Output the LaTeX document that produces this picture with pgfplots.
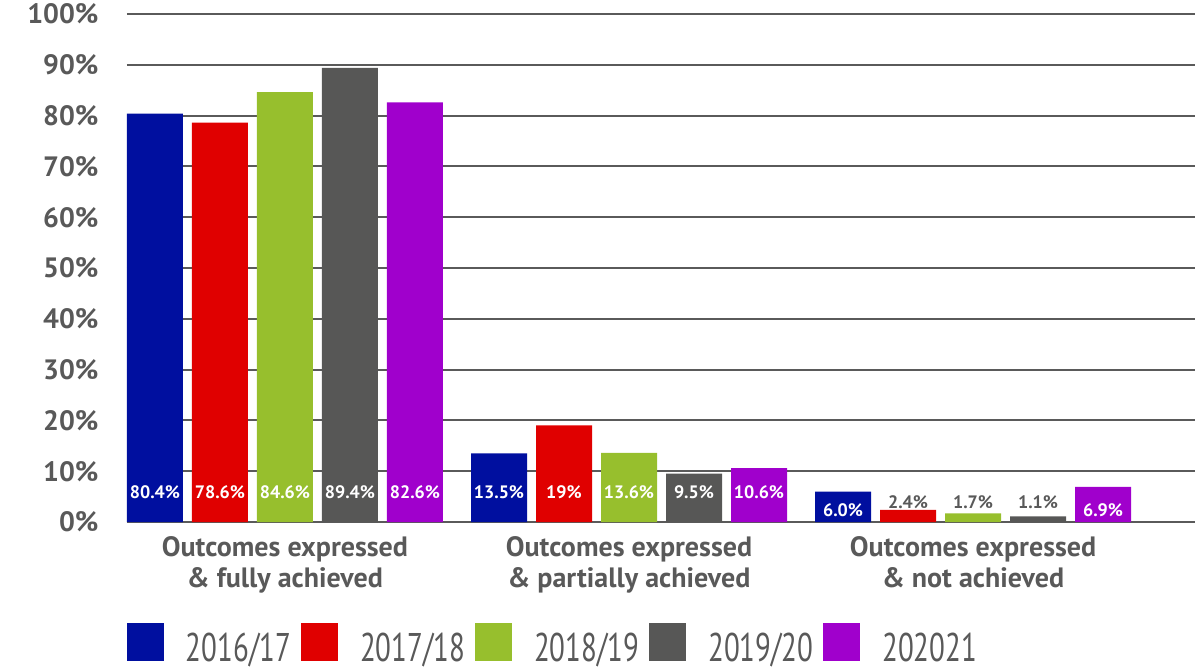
\documentclass[border=0pt]{standalone}
\usepackage{pgfplots}
\pgfplotsset{compat=1.18}
\usepackage{graphicx}
\usepackage{fontspec}
\setmainfont{PT Sans}
\definecolor{cblue}{HTML}{000F9F}
\definecolor{cred}{HTML}{E00000}
\definecolor{cgreen}{HTML}{97BF2D}
\definecolor{cgray}{HTML}{575756}
\definecolor{cpurple}{HTML}{A000CC}
\definecolor{txt}{HTML}{595959}
\definecolor{gridc}{HTML}{5A5A5A}
\begin{document}
\begin{tikzpicture}
\path[use as bounding box] (-127pt,-148pt) rectangle (1074pt,522pt);
\begin{axis}[
  scale only axis, width=1068pt, height=508pt,
  xmin=-0.459, xmax=2.645, ymin=0, ymax=100,
  ybar=9pt, bar width=56pt,
  axis line style={draw=none},
  tick style={draw=none},
  ymajorgrids, grid style={gridc, line width=2pt},
  ytick={0,10,...,100},
  yticklabels={0\%,10\%,20\%,30\%,40\%,50\%,60\%,70\%,80\%,90\%,100\%},
  yticklabel style={font=\fontsize{28}{30}\selectfont\bfseries, text=txt, xshift=-25pt},
  xtick={0,1,2},
  xticklabels={{Outcomes expressed\\\& fully achieved},{Outcomes expressed\\\& partially achieved},{Outcomes expressed\\\& not achieved}},
  xticklabel style={align=center, font=\fontsize{28}{31}\selectfont\bfseries, text=txt, yshift=-7pt},
  legend columns=5,
  legend style={at={(axis description cs:0,0)}, anchor=north west, yshift=-101pt,
    draw=none, fill=none, inner sep=0pt, outer sep=0pt,
    font=\fontsize{29}{31}\selectfont, text=txt,
    nodes={inner sep=0pt},
    /tikz/every odd column/.style={column sep=22pt},
    /tikz/every even column/.style={column sep=10pt}},
  legend image code/.code={\fill[#1] (0pt,-13pt) rectangle (37pt,25pt);},
  point meta=explicit symbolic,
  visualization depends on={\thisrow{off} \as \off},
  visualization depends on={\thisrow{dk} \as \dk},
  visualization depends on={y \as \rawy},
  nodes near coords={\ifdim\dk pt>0.5pt\color{txt}\else\color{white}\fi\pgfplotspointmeta\%},
  every node near coord/.append style={font=\fontsize{18}{20}\selectfont\bfseries, anchor=center, yshift={(\off-5.08*\rawy)*1pt}},
]
\addplot[fill=cblue, draw=none] table[meta=lab] {
x y lab off dk
0 80.4 80.4 30 0
1 13.5 13.5 30 0
2 6.0 6.0 12 0
};
\addlegendentry{\scalebox{1}[1.38]{2016/17}}
\addplot[fill=cred, draw=none] table[meta=lab] {
x y lab off dk
0 78.6 78.6 30 0
1 19 19 30 0
2 2.4 2.4 20 1
};
\addlegendentry{\scalebox{1}[1.38]{2017/18}}
\addplot[fill=cgreen, draw=none] table[meta=lab] {
x y lab off dk
0 84.6 84.6 30 0
1 13.6 13.6 30 0
2 1.7 1.7 20 1
};
\addlegendentry{\scalebox{1}[1.38]{2018/19}}
\addplot[fill=cgray, draw=none] table[meta=lab] {
x y lab off dk
0 89.4 89.4 30 0
1 9.5 9.5 30 0
2 1.1 1.1 20 1
};
\addlegendentry{\scalebox{1}[1.38]{2019/20}}
\addplot[fill=cpurple, draw=none] table[meta=lab] {
x y lab off dk
0 82.6 82.6 30 0
1 10.6 10.6 30 0
2 6.9 6.9 12 0
};
\addlegendentry{\scalebox{1}[1.38]{202021}}
\end{axis}
\end{tikzpicture}
\end{document}
